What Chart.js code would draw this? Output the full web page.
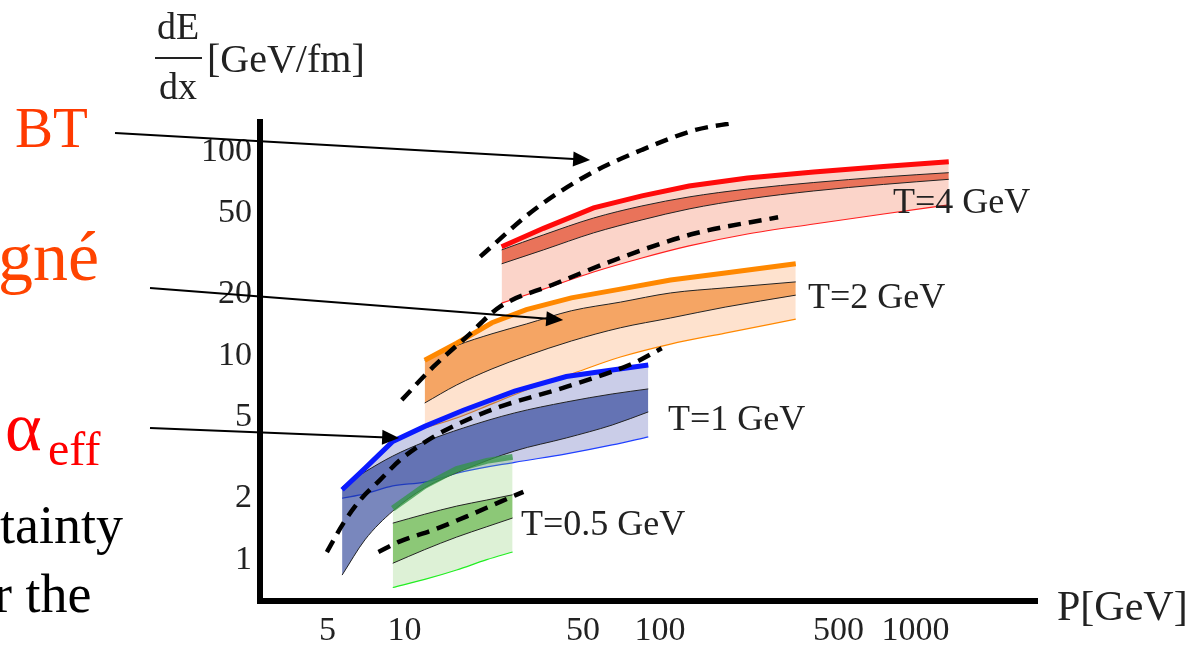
<!DOCTYPE html>
<html>
<head>
<meta charset="utf-8">
<script src="https://cdn.jsdelivr.net/npm/chart.js@4.4.1/dist/chart.umd.min.js"></script>
<style>
  html, body { margin: 0; padding: 0; background: #fff; }
  #wrap { width: 1198px; height: 646px; position: relative; }
</style>
</head>
<body>
<div id="wrap"><canvas id="myChart"></canvas></div>
<script>
// axis ticks
let xTicks = [5, 10, 50, 100, 500, 1000];
let yTicks = [1, 2, 5, 10, 20, 50, 100];

// T = 4 GeV (red)
let pRed = [24, 35, 55, 85, 130, 220, 400, 750, 1350];
let redThick = [34.2, 42.1, 53.0, 60.7, 67.9, 74.3, 79.5, 84.6, 89.3];
let redTop = [33.0, 39.1, 47.3, 54.2, 60.0, 65.6, 70.6, 75.2, 78.9];
let redBottom = [28.2, 33.0, 40.0, 46.3, 52.4, 58.6, 64.2, 69.1, 73.2];
let redThin = [18.1, 21.2, 25.7, 30.1, 34.5, 39.5, 44.2, 49.5, 54.8];

// T = 2 GeV (orange)
let pOrange = [12, 16, 22, 30, 45, 70, 110, 180, 340];
let orangeThick = [9.5, 11.5, 14.5, 16.8, 19.2, 21.2, 23.5, 25.4, 28.2];
let orangeTop = [9.5, 11.2, 12.8, 14.3, 16.6, 18.3, 20.3, 21.5, 23.0];
let orangeBottom = [5.86, 7.18, 8.61, 9.97, 11.8, 13.7, 15.3, 17.3, 19.8];
let orangeThin = [4.42, 4.95, 5.80, 6.79, 8.13, 9.85, 11.4, 12.9, 15.1];

// T = 1 GeV (blue)
let pBlue = [5.7, 7, 9, 12, 17, 27, 43, 65, 90];
let blueThick = [2.2, 2.8, 3.8, 4.5, 5.4, 6.7, 7.9, 8.5, 9.0];
let blueTop = [2.27, 2.69, 3.22, 3.78, 4.42, 5.24, 5.93, 6.49, 6.87];
let blueBottom = [0.84, 1.25, 1.73, 2.25, 2.75, 3.41, 3.95, 4.57, 5.30];
let blueThin = [2.0, 2.1, 2.3, 2.4, 2.7, 3.0, 3.3, 3.65, 4.0];

// T = 0.5 GeV (green)
let pGreen = [9, 12, 16, 21, 26.5];
let greenThick = [1.78, 2.30, 2.78, 3.05, 3.19];
let greenTop = [1.51, 1.67, 1.83, 1.96, 2.08];
let greenBottom = [0.96, 1.12, 1.29, 1.45, 1.60];
let greenThin = [0.73, 0.80, 0.89, 1.00, 1.09];

// dashed BT curves
let bt1P = [19.8, 32.1, 52.2, 84.7, 137.7, 196];
let bt1 = [30.6, 51.8, 76.9, 101.9, 127.8, 138.7];
let bt2P = [9.76, 12.98, 17.54, 23.67, 37.8, 72.1, 137.7, 290];
let bt2 = [6.07, 8.83, 12.39, 17.39, 22.2, 30.6, 39.8, 47.7];
let bt3P = [4.97, 5.77, 6.71, 8.03, 9.61, 12.98, 17.54, 23.67, 43.2, 78.7, 101.6];
let bt3 = [1.09, 1.51, 1.96, 2.46, 3.08, 4.0, 4.84, 5.62, 7.05, 9.18, 10.87];
let bt4P = [7.91, 9.61, 12.98, 17.54, 23.67, 29.2];
let bt4 = [1.09, 1.23, 1.40, 1.63, 1.92, 2.15];

function pts(xs, ys) {
    return xs.map((x, i) => ({x: x, y: ys[i]}));
}

let datasets = [];

function addDashed(p, v) {
    datasets.push({
        data: pts(p, v), borderColor: '#000', borderWidth: 4.5,
        borderDash: [13, 8], fill: false, cubicInterpolationMode: 'monotone', order: 0
    });
}
addDashed(bt1P, bt1);
addDashed(bt2P, bt2);
addDashed(bt3P, bt3);
addDashed(bt4P, bt4);

function addBand(p, thick, top, bottom, thin, col, base) {
    let iThick = datasets.length;
    datasets.push({
        data: pts(p, thick), borderColor: col.thick, borderWidth: col.thickWidth,
        fill: false, tension: 0, order: base
    });
    datasets.push({
        data: pts(p, top), borderColor: '#222', borderWidth: 1,
        fill: iThick + 2, backgroundColor: col.dark,
        cubicInterpolationMode: 'monotone', order: base + 1
    });
    datasets.push({
        data: pts(p, bottom), borderColor: '#222', borderWidth: 1,
        fill: false, cubicInterpolationMode: 'monotone', order: base + 0.5
    });
    datasets.push({
        data: pts(p, thin), borderColor: col.thin, borderWidth: 1.2,
        fill: iThick, backgroundColor: col.light,
        cubicInterpolationMode: 'monotone', order: base + 2
    });
}

addBand(pGreen, greenThick, greenTop, greenBottom, greenThin, {
    thick: 'rgba(50,150,70,0.75)', thickWidth: 6, thin: '#22ee22',
    light: 'rgba(120,200,90,0.25)', dark: 'rgba(59,159,26,0.5)'
}, 1);
addBand(pBlue, blueThick, blueTop, blueBottom, blueThin, {
    thick: '#0a1aff', thickWidth: 5, thin: '#2040ff',
    light: 'rgba(80,90,180,0.3)', dark: 'rgba(32,55,145,0.6)'
}, 4);
addBand(pOrange, orangeThick, orangeTop, orangeBottom, orangeThin, {
    thick: '#ff8800', thickWidth: 5, thin: '#ff8800',
    light: 'rgba(250,140,60,0.25)', dark: 'rgba(239,124,29,0.6)'
}, 7);
addBand(pRed, redThick, redTop, redBottom, redThin, {
    thick: '#ff0a0a', thickWidth: 5, thin: '#ff2020',
    light: 'rgba(240,100,60,0.28)', dark: 'rgba(222,63,31,0.65)'
}, 10);

function arrow(c, x0, y0, x1, y1) {
    let a = Math.atan2(y1 - y0, x1 - x0);
    let cs = Math.cos(a), sn = Math.sin(a);
    c.beginPath();
    c.moveTo(x0, y0);
    c.lineTo(x1 - 12 * cs, y1 - 12 * sn);
    c.stroke();
    c.beginPath();
    c.moveTo(x1, y1);
    c.lineTo(x1 - 17 * cs + 7.5 * sn, y1 - 17 * sn - 7.5 * cs);
    c.lineTo(x1 - 17 * cs - 7.5 * sn, y1 - 17 * sn + 7.5 * cs);
    c.closePath();
    c.fill();
}

let overlay = {
    id: 'overlay',
    afterDraw(chart) {
        let c = chart.ctx;
        let xs = chart.scales.x, ys = chart.scales.y;
        c.save();
        c.textBaseline = 'alphabetic';
        c.textAlign = 'left';

        // y axis title as a fraction
        c.fillStyle = '#222';
        c.font = '38px "Liberation Serif"';
        c.textAlign = 'center';
        c.fillText('dE', 178, 39);
        c.fillText('dx', 178, 99);
        c.fillRect(155, 57, 47, 2);
        c.textAlign = 'left';
        c.font = '40px "Liberation Serif"';
        c.fillText('[GeV/fm]', 207, 72);

        // x axis title
        c.font = '42px "Liberation Serif"';
        c.fillText('P[GeV]', 1057, 620);

        // temperature labels
        c.font = '36px "Liberation Serif"';
        c.fillText('T=4 GeV', 893, 213);
        c.fillText('T=2 GeV', 808, 308);
        c.fillText('T=1 GeV', 668, 430);
        c.fillText('T=0.5 GeV', 521, 535);

        // slide labels on the left
        c.fillStyle = '#ff3a00';
        c.font = '57px "Liberation Serif"';
        c.fillText('BT', 15, 147);
        c.fillStyle = '#ff4400';
        c.font = '70px "Liberation Serif"';
        c.fillText('gné', -2, 280);
        c.fillStyle = '#ff0000';
        c.font = '70px "Liberation Serif"';
        c.fillText('α', 5, 450);
        c.font = '48px "Liberation Serif"';
        c.fillText('eff', 48, 465);
        c.fillStyle = '#000';
        c.font = '54px "Liberation Serif"';
        c.fillText('tainty', 0, 543);
        c.fillText('r the', -6, 612);

        // arrows from labels to curves (tips in data coordinates)
        c.strokeStyle = '#000';
        c.fillStyle = '#000';
        c.lineWidth = 2;
        arrow(c, 115, 133, xs.getPixelForValue(53.3), ys.getPixelForValue(91.1));
        arrow(c, 150, 288, xs.getPixelForValue(41.8), ys.getPixelForValue(14.96));
        arrow(c, 150, 428, xs.getPixelForValue(9.53), ys.getPixelForValue(3.95));
        c.restore();
    }
};

let tickFont = {family: 'Liberation Serif', size: 34};

let myChart = document.getElementById('myChart').getContext('2d');
let chart = new Chart(myChart, {
    type: 'line',
    data: {datasets: datasets},
    options: {
        responsive: true,
        maintainAspectRatio: false,
        animation: false,
        layout: {padding: {left: 0, right: 161, top: 122, bottom: 0}},
        elements: {point: {radius: 0}},
        plugins: {legend: {display: false}, tooltip: {enabled: false}},
        scales: {
            x: {
                type: 'logarithmic', min: 2.72, max: 2990, bounds: 'data',
                grid: {display: false, drawTicks: false},
                border: {display: true, color: '#000', width: 6},
                afterBuildTicks: s => { s.ticks = xTicks.map(v => ({value: v})); },
                afterFit: s => { s.height = 45; },
                ticks: {
                    autoSkip: false, maxRotation: 0, padding: 10, color: '#222',
                    font: tickFont, callback: v => String(v)
                }
            },
            y: {
                type: 'logarithmic', min: 0.627, max: 139.8, bounds: 'data',
                grid: {display: false, drawTicks: false},
                border: {display: true, color: '#000', width: 6},
                afterBuildTicks: s => { s.ticks = yTicks.map(v => ({value: v})); },
                afterFit: s => { s.width = 260; },
                ticks: {
                    autoSkip: false, padding: 8, color: '#222',
                    font: tickFont, callback: v => String(v)
                }
            }
        }
    },
    plugins: [overlay]
});
</script>
</body>
</html>
